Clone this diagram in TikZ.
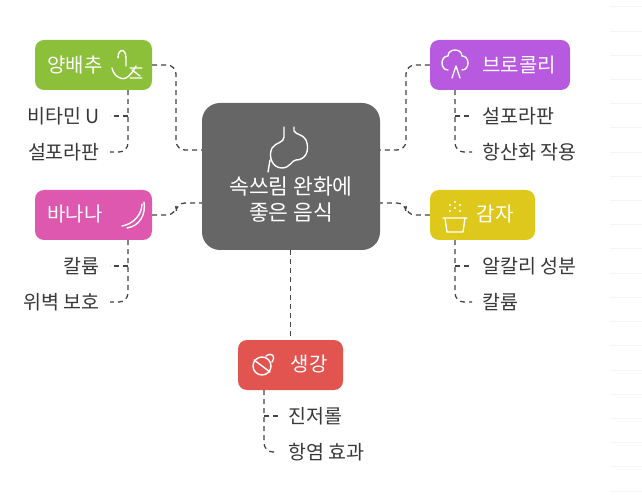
\documentclass[tikz,border=0pt]{standalone}
\usepackage{fontspec}
\setmainfont{Noto Sans CJK KR}
\definecolor{cg}{HTML}{8CBF3A}
\definecolor{cp}{HTML}{B75AE0}
\definecolor{ck}{HTML}{DD58AE}
\definecolor{cy}{HTML}{DEC81C}
\definecolor{cr}{HTML}{E25450}
\definecolor{cc}{HTML}{666666}
\definecolor{ln}{HTML}{444444}
\begin{document}
\begin{tikzpicture}[x=1pt,y=-1pt,
  cat/.style={rounded corners=9pt,minimum height=50pt},
  lbl/.style={text=white,font=\fontsize{20}{24}\selectfont},
  con/.style={draw=ln,dashed,dash pattern=on 5pt off 4pt,line width=1.3pt,rounded corners=9pt},
  sub/.style={font=\fontsize{19.5}{22}\selectfont,text=black!78,inner sep=0pt},
  ic/.style={draw=white,line width=1.4pt,line cap=round,line join=round}]
\useasboundingbox (0,0) rectangle (642,502);
\foreach \i in {0,...,20} \draw[black!4,line width=1pt] (610,{7+\i*24.2}) -- (642,{7+\i*24.2});
% center
\node[fill=cc,rounded corners=18pt,minimum width=178pt,minimum height=147pt] (c) at (291,176.5) {};
\node[text=white,font=\fontsize{21.5}{26}\selectfont,align=center] (ct) at (291,200) {속쓰림 완화에\\좋은 음식};
\draw[ic] (284,127) -- (284,137) .. controls (284,143) and (276,142) .. (272,148) .. controls (268,156) and (272,168) .. (282,168) .. controls (290,168) and (292,160) .. (296,160) .. controls (306,160) and (310,150) .. (306,140) .. controls (303,134) and (296,135) .. (294,131) -- (294,127);
\draw[ic] (268,172) -- (270,160);
% nodes
\node[cat,fill=cg,minimum width=117pt] (a) at (93.5,65) {};
\node[cat,fill=cp,minimum width=140pt] (b) at (500,65) {};
\node[cat,fill=ck,minimum width=117pt] (d) at (93.5,215) {};
\node[cat,fill=cy,minimum width=105pt] (e) at (482.5,215) {};
\node[cat,fill=cr,minimum width=105pt] (f) at (290.5,365) {};
\node[lbl] at (75,65) {양배추};
\node[lbl] at (519,65) {브로콜리};
\node[lbl] at (75,214) {바나나};
\node[lbl] at (495,214) {감자};
\node[lbl] at (309,364) {생강};
% icons
\draw[ic] (118,58) .. controls (118,48) and (126,48) .. (126,58) -- (126,66) (112,68) .. controls (114,78) and (124,80) .. (126,78) .. controls (130,76) and (134,70) .. (136,66) (130,68) -- (142,68) (130,78) -- (142,78) (132,70)--(140,76);
\draw[ic] (448,70) .. controls (440,70) and (440,56) .. (448,56) .. controls (448,48) and (462,48) .. (462,56) .. controls (470,56) and (470,70) .. (462,70) (452,78) -- (456,66) -- (460,78);
\draw[ic] (122,226) .. controls (134,224) and (142,214) .. (142,204) (127,228) .. controls (140,226) and (146,214) .. (144,202);
\draw[ic] (443,218) -- (467,218) (445,218) -- (447,232) -- (463,232) -- (465,218);
\foreach \p in {(450,205),(455,202),(460,205),(455,208),(450,211),(460,211)} \fill[white] \p circle (1.1pt);
\draw[ic] (262,366) circle (9pt) (254,360) -- (270,372) (266,356) .. controls (272,352) and (276,356) .. (272,362);
% connectors
\draw[con] (a.east) -| (176,150) -- (c.west |- 0,150);
\draw[con] (b.west) -| (406,150) -- (c.east |- 0,150);
\draw[con] (d.east) -- (176,215) |- (c.west |- 0,203);
\draw[con] (e.west) -- (406,215) |- (c.east |- 0,203);
\draw[con] (c.south -| f.north) -- (f.north);
% subs
\node[sub,anchor=east] (a1) at (100,116) {비타민 U};
\node[sub,anchor=east] (a2) at (100,152) {설포라판};
\draw[con] (a.south -| 128,0) |- ([xshift=10pt]a2.east);
\draw[con] (128,116) -- ([xshift=10pt]a1.east);
\node[sub,anchor=west] (b1) at (482,116) {설포라판};
\node[sub,anchor=west] (b2) at (482,152) {항산화 작용};
\draw[con] (b.south -| 455,0) |- ([xshift=-10pt]b2.west);
\draw[con] (455,116) -- ([xshift=-10pt]b1.west);
\node[sub,anchor=east] (d1) at (100,266) {칼륨};
\node[sub,anchor=east] (d2) at (100,302) {위벽 보호};
\draw[con] (d.south -| 128,0) |- ([xshift=10pt]d2.east);
\draw[con] (128,266) -- ([xshift=10pt]d1.east);
\node[sub,anchor=west] (e1) at (482,266) {알칼리 성분};
\node[sub,anchor=west] (e2) at (482,302) {칼륨};
\draw[con] (e.south -| 455,0) |- ([xshift=-10pt]e2.west);
\draw[con] (455,266) -- ([xshift=-10pt]e1.west);
\node[sub,anchor=west] (f1) at (288,416) {진저롤};
\node[sub,anchor=west] (f2) at (288,452) {항염 효과};
\draw[con] (f.south -| 264,0) |- ([xshift=-10pt]f2.west);
\draw[con] (264,416) -- ([xshift=-10pt]f1.west);
\end{tikzpicture}
\end{document}
